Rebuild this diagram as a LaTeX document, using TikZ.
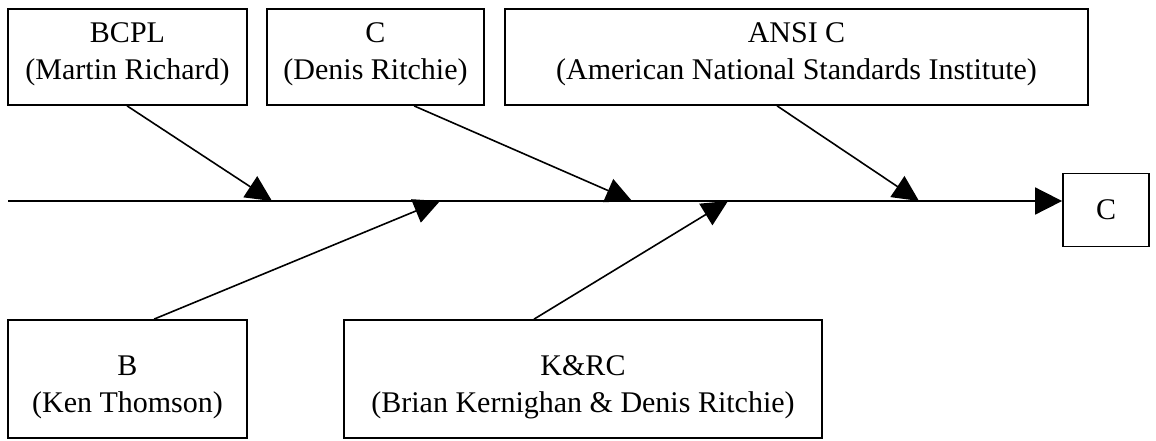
\documentclass[tikz,border=0pt]{standalone}
\usepackage{fontspec}
\setmainfont{Liberation Serif}
\usetikzlibrary{arrows.meta}
\newcommand\liftlines[2]{\raisebox{#1}[\height][\depth]{\begin{tabular}{@{}c@{}}#2\end{tabular}}}
\begin{document}
\begin{tikzpicture}[x=1pt,y=-1pt,
  box/.style={draw, line width=1.8pt, align=center, inner sep=0pt,
    font=\fontsize{30}{37}\selectfont},
  conn/.style={line width=1.6pt, -{Triangle[length=26pt,width=25pt]}},
  spine/.style={line width=1.8pt, -{Triangle[length=27pt,width=27pt]}}]
\useasboundingbox (0,0) rectangle (1156,440);
% top boxes
\node[box, minimum width=239pt, minimum height=96pt] (bcpl) at (127.5,57) {\liftlines{3pt}{BCPL\\(Martin Richard)}};
\node[box, minimum width=217pt, minimum height=96pt] (c) at (375.5,57) {\liftlines{3pt}{C\\(Denis Ritchie)}};
\node[box, minimum width=583pt, minimum height=96pt] (ansi) at (796.5,57) {\liftlines{3pt}{ANSI C\\(American National Standards Institute)}};
% bottom boxes
\node[box, minimum width=239pt, minimum height=118pt] (b) at (127.5,379) {\liftlines{-8pt}{B\\(Ken Thomson)}};
\node[box, minimum width=478pt, minimum height=118pt] (krc) at (583,379) {\liftlines{-8pt}{K\&RC\\(Brian Kernighan \& Denis Ritchie)}};
% result
\node[box, minimum width=86pt, minimum height=73pt] (res) at (1106,210) {C};
% spine
\coordinate (s0) at (8,201);
\coordinate (j1) at (272,201);
\coordinate (j2) at (440,201);
\coordinate (j3) at (632,201);
\coordinate (j4) at (728,201);
\coordinate (j5) at (919,201);
\draw[spine] (s0) -- (s0 -| res.west);
% connectors
\draw[conn] ([xshift=120pt]bcpl.south west) -- (j1);
\draw[conn] ([xshift=148pt]c.south west) -- (j3);
\draw[conn] ([xshift=273pt]ansi.south west) -- (j5);
\draw[conn] ([xshift=147pt]b.north west) -- (j2);
\draw[conn] ([xshift=191pt]krc.north west) -- (j4);
\end{tikzpicture}
\end{document}
